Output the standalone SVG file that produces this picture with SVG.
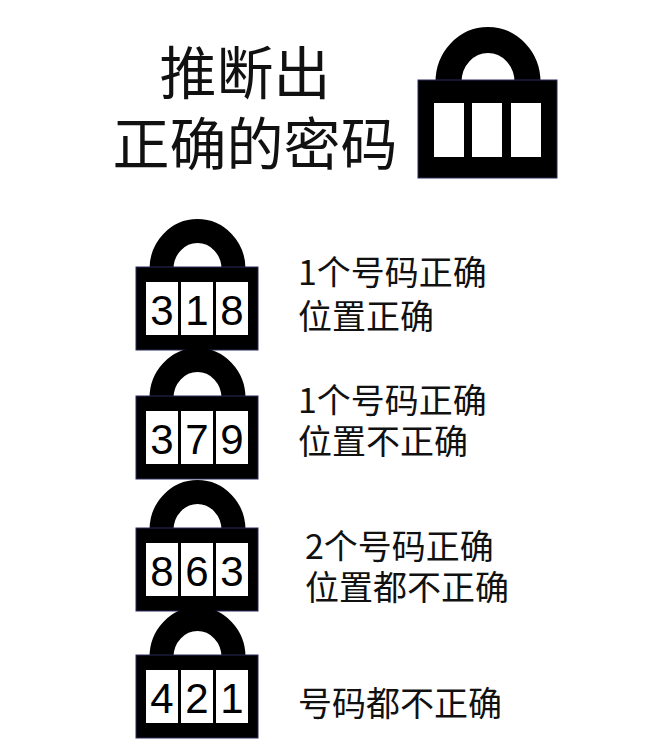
<svg xmlns="http://www.w3.org/2000/svg" width="662" height="750" viewBox="0 0 662 750">
<style>
.t{font-family:"Noto Sans CJK SC","Noto Sans",sans-serif;fill:#111}
.d{font-family:"Liberation Sans",Arial,sans-serif;font-size:42px;text-anchor:middle;fill:#000}
.body{fill:#000;stroke:#2a2a5a;stroke-width:1}
.win{fill:#fff}
.sh{fill:none;stroke:#000}
</style>
<defs>
<g id="lock">
<path class="sh" d="M25.5 2 A36 38 0 0 1 97.5 2" stroke-width="24"/>
<rect class="body" x="0" y="0" width="122" height="83"/>
<rect class="win" x="10" y="15" width="32" height="53"/>
<rect class="win" x="45" y="15" width="32" height="53"/>
<rect class="win" x="80" y="15" width="32" height="53"/>
</g>
</defs>
<rect width="662" height="750" fill="#fff"/>
<g id="title">
<text class="t" x="245" y="94" font-size="57" text-anchor="middle">推断出</text>
<text class="t" x="255" y="165" font-size="57" text-anchor="middle">正确的密码</text>
</g>
<g id="bigLock">
<path class="sh" d="M448.5 82 A39.5 42 0 0 1 527.5 82" stroke-width="26"/>
<rect class="body" x="418" y="80" width="139" height="98"/>
<rect class="win" x="434" y="103" width="30" height="54"/>
<rect class="win" x="472" y="103" width="30" height="54"/>
<rect class="win" x="511" y="103" width="30" height="54"/>
</g>
<g id="lock1">
<use href="#lock" x="136" y="267"/>
<text class="d" x="162" y="325">3</text><text class="d" x="197" y="325">1</text><text class="d" x="232" y="325">8</text>
<text class="t" x="298" y="285" font-size="34">1个号码正确</text>
<text class="t" x="298" y="329" font-size="34">位置正确</text>
</g>
<g id="lock2">
<use href="#lock" x="136" y="396"/>
<text class="d" x="162" y="454">3</text><text class="d" x="197" y="454">7</text><text class="d" x="232" y="454">9</text>
<text class="t" x="298" y="413" font-size="34">1个号码正确</text>
<text class="t" x="298" y="454" font-size="34">位置不正确</text>
</g>
<g id="lock3">
<use href="#lock" x="136" y="528"/>
<text class="d" x="162" y="586">8</text><text class="d" x="197" y="586">6</text><text class="d" x="232" y="586">3</text>
<text class="t" x="305" y="559" font-size="34">2个号码正确</text>
<text class="t" x="305" y="600" font-size="34">位置都不正确</text>
</g>
<g id="lock4">
<use href="#lock" x="136" y="655"/>
<text class="d" x="162" y="713">4</text><text class="d" x="197" y="713">2</text><text class="d" x="232" y="713">1</text>
<text class="t" x="298" y="716" font-size="34">号码都不正确</text>
</g>
<g id="connectors"/>
</svg>
